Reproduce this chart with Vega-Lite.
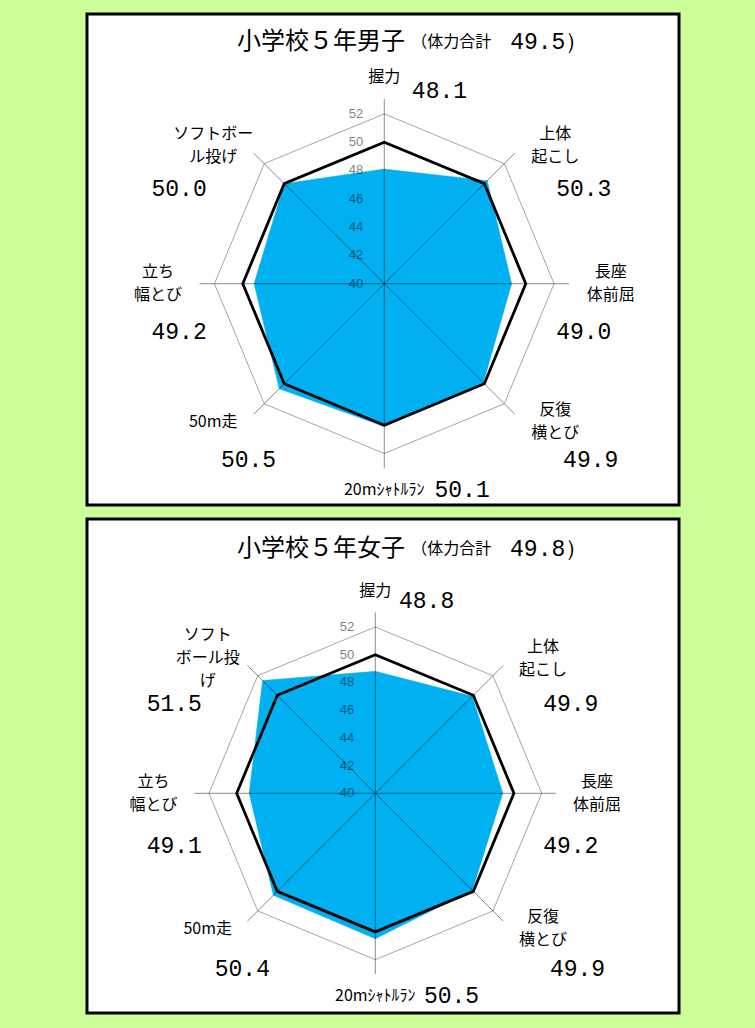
{
  "$schema": "https://vega.github.io/schema/vega-lite/v6.json",
  "background": "#CCFF99",
  "padding": {"left": 85, "top": 12, "right": 78, "bottom": 21},
  "config": {
    "view": {"stroke": "#000000", "strokeWidth": 3, "fill": "#ffffff"},
    "concat": {"spacing": 10}
  },
  "vconcat": [
    {
      "width": 592,
      "height": 491,
      "layer": [
        {
          "data": {"values": [
            {"idx": 0, "item": "握力", "label": "握力", "score": 48.1, "national": 50},
            {"idx": 1, "item": "上体起こし", "label": "上体\n起こし", "score": 50.3, "national": 50},
            {"idx": 2, "item": "長座体前屈", "label": "長座\n体前屈", "score": 49.0, "national": 50},
            {"idx": 3, "item": "反復横とび", "label": "反復\n横とび", "score": 49.9, "national": 50},
            {"idx": 4, "item": "20mシャトルラン", "label": "20mｼｬﾄﾙﾗﾝ", "score": 50.1, "national": 50},
            {"idx": 5, "item": "50m走", "label": "50m走", "score": 50.5, "national": 50},
            {"idx": 6, "item": "立ち幅とび", "label": "立ち\n幅とび", "score": 49.2, "national": 50},
            {"idx": 7, "item": "ソフトボール投げ", "label": "ソフトボー\nル投げ", "score": 50.0, "national": 50}
          ]},
          "transform": [
            {"calculate": "datum.idx * PI / 4", "as": "angle"},
            {"calculate": "abs(sin(2 * datum.angle))", "as": "diag"},
            {"calculate": "length(split(datum.label, '\\n'))", "as": "nl"},
            {"calculate": "(datum.score - 40) * sin(datum.angle)", "as": "sx"},
            {"calculate": "(datum.score - 40) * cos(datum.angle)", "as": "sy"},
            {"calculate": "(datum.national - 40) * sin(datum.angle)", "as": "nx"},
            {"calculate": "(datum.national - 40) * cos(datum.angle)", "as": "ny"},
            {"calculate": "12 * sin(datum.angle)", "as": "gx"},
            {"calculate": "12 * cos(datum.angle)", "as": "gy"},
            {"calculate": "13.05 * sin(datum.angle)", "as": "ex"},
            {"calculate": "13.05 * cos(datum.angle)", "as": "ey"},
            {"calculate": "sin(datum.angle) * (16 + 1.1 * datum.diag)", "as": "lx"},
            {"calculate": "cos(datum.angle) * (14.6 - 0.8 * datum.diag)", "as": "ly"},
            {"calculate": "datum.ly + (datum.nl - 1) * 0.81", "as": "lyTop"},
            {"calculate": "abs(sin(datum.angle)) < 0.5 ? (cos(datum.angle) > 0 ? 3.9 : 5.5) : (cos(datum.angle) < -0.5 ? datum.lx + 2.5 : (sin(datum.angle) > 0 ? 14.1 : -14.5))", "as": "vx"},
            {"calculate": "abs(sin(datum.angle)) < 0.5 ? datum.ly - (cos(datum.angle) > 0 ? 1.0 : 0) : datum.ly - (abs(cos(datum.angle)) < 0.1 ? 3.4 : (cos(datum.angle) > 0 ? 3.1 : 2.7))", "as": "vy"}
          ],
          "layer": [
            {
              "mark": {"type": "line", "interpolate": "linear-closed", "stroke": "#a6a6a6", "strokeWidth": 1},
              "encoding": {
                "x": {"field": "gx", "type": "quantitative", "scale": {"domain": [-21.01, 20.83], "nice": false, "zero": false}, "axis": null},
                "y": {"field": "gy", "type": "quantitative", "scale": {"domain": [-15.64, 19.06], "nice": false, "zero": false}, "axis": null},
                "order": {"field": "idx", "type": "quantitative"}
              }
            },
            {
              "mark": {"type": "line", "interpolate": "linear-closed", "fill": "#00B0F0", "stroke": "#00B0F0", "strokeWidth": 0.5},
              "encoding": {
                "x": {"field": "sx", "type": "quantitative", "scale": {"domain": [-21.01, 20.83], "nice": false, "zero": false}, "axis": null},
                "y": {"field": "sy", "type": "quantitative", "scale": {"domain": [-15.64, 19.06], "nice": false, "zero": false}, "axis": null},
                "order": {"field": "idx", "type": "quantitative"}
              }
            },
            {
              "mark": {"type": "rule", "color": "#000000", "opacity": 0.45, "strokeWidth": 1},
              "encoding": {
                "x": {"field": "ex", "type": "quantitative", "scale": {"domain": [-21.01, 20.83], "nice": false, "zero": false}, "axis": null},
                "y": {"field": "ey", "type": "quantitative", "scale": {"domain": [-15.64, 19.06], "nice": false, "zero": false}, "axis": null},
                "x2": {"datum": 0},
                "y2": {"datum": 0}
              }
            },
            {
              "mark": {"type": "line", "interpolate": "linear-closed", "stroke": "#000000", "strokeWidth": 2.8},
              "encoding": {
                "x": {"field": "nx", "type": "quantitative", "scale": {"domain": [-21.01, 20.83], "nice": false, "zero": false}, "axis": null},
                "y": {"field": "ny", "type": "quantitative", "scale": {"domain": [-15.64, 19.06], "nice": false, "zero": false}, "axis": null},
                "order": {"field": "idx", "type": "quantitative"}
              }
            },
            {
              "mark": {"type": "text", "align": "center", "baseline": "middle", "lineBreak": "\n", "lineHeight": 23, "font": "Noto Sans CJK JP", "fontSize": 16, "color": "#000000"},
              "encoding": {
                "x": {"field": "lx", "type": "quantitative", "scale": {"domain": [-21.01, 20.83], "nice": false, "zero": false}, "axis": null},
                "y": {"field": "lyTop", "type": "quantitative", "scale": {"domain": [-15.64, 19.06], "nice": false, "zero": false}, "axis": null},
                "text": {"field": "label", "type": "nominal"}
              }
            },
            {
              "mark": {"type": "text", "align": "center", "baseline": "middle", "font": "Liberation Mono", "fontSize": 23, "color": "#000000"},
              "encoding": {
                "x": {"field": "vx", "type": "quantitative", "scale": {"domain": [-21.01, 20.83], "nice": false, "zero": false}, "axis": null},
                "y": {"field": "vy", "type": "quantitative", "scale": {"domain": [-15.64, 19.06], "nice": false, "zero": false}, "axis": null},
                "text": {"field": "score", "type": "quantitative", "format": ".1f"}
              }
            }
          ]
        },
        {
          "data": {"values": [{"tick": 40}, {"tick": 42}, {"tick": 44}, {"tick": 46}, {"tick": 48}, {"tick": 50}, {"tick": 52}]},
          "transform": [{"calculate": "datum.tick - 40", "as": "r"}],
          "mark": {"type": "text", "align": "right", "baseline": "middle", "dx": -21, "font": "Liberation Sans", "fontSize": 13, "color": "#000000", "opacity": 0.5},
          "encoding": {
            "x": {"datum": 0, "type": "quantitative", "scale": {"domain": [-21.01, 20.83], "nice": false, "zero": false}, "axis": null},
            "y": {"field": "r", "type": "quantitative", "scale": {"domain": [-15.64, 19.06], "nice": false, "zero": false}, "axis": null},
            "text": {"field": "tick", "type": "quantitative"}
          }
        },
        {
          "data": {"values": [{"grade": "小学校５年男子", "total": 49.5}]},
          "transform": [{"calculate": "format(datum.total, '.1f') + '）'", "as": "totalLabel"}],
          "layer": [
            {
              "mark": {"type": "text", "align": "right", "baseline": "middle", "font": "Noto Sans CJK JP", "fontSize": 24, "color": "#000000"},
              "encoding": {
                "x": {"datum": 1.46, "type": "quantitative", "scale": {"domain": [-21.01, 20.83], "nice": false, "zero": false}, "axis": null},
                "y": {"datum": 17.05, "type": "quantitative", "scale": {"domain": [-15.64, 19.06], "nice": false, "zero": false}, "axis": null},
                "text": {"field": "grade", "type": "nominal"}
              }
            },
            {
              "mark": {"type": "text", "align": "left", "baseline": "middle", "font": "Noto Sans CJK JP", "fontSize": 16, "color": "#000000"},
              "encoding": {
                "x": {"datum": 1.9, "type": "quantitative", "scale": {"domain": [-21.01, 20.83], "nice": false, "zero": false}, "axis": null},
                "y": {"datum": 17.05, "type": "quantitative", "scale": {"domain": [-15.64, 19.06], "nice": false, "zero": false}, "axis": null},
                "text": {"value": "（体力合計"}
              }
            },
            {
              "mark": {"type": "text", "align": "left", "baseline": "middle", "font": "Liberation Mono", "fontSize": 23, "color": "#000000"},
              "encoding": {
                "x": {"datum": 8.9, "type": "quantitative", "scale": {"domain": [-21.01, 20.83], "nice": false, "zero": false}, "axis": null},
                "y": {"datum": 17.05, "type": "quantitative", "scale": {"domain": [-15.64, 19.06], "nice": false, "zero": false}, "axis": null},
                "text": {"field": "totalLabel", "type": "nominal"}
              }
            }
          ]
        }
      ]
    },
    {
      "width": 592,
      "height": 494,
      "layer": [
        {
          "data": {"values": [
            {"idx": 0, "item": "握力", "label": "握力", "score": 48.8, "national": 50},
            {"idx": 1, "item": "上体起こし", "label": "上体\n起こし", "score": 49.9, "national": 50},
            {"idx": 2, "item": "長座体前屈", "label": "長座\n体前屈", "score": 49.2, "national": 50},
            {"idx": 3, "item": "反復横とび", "label": "反復\n横とび", "score": 49.9, "national": 50},
            {"idx": 4, "item": "20mシャトルラン", "label": "20mｼｬﾄﾙﾗﾝ", "score": 50.5, "national": 50},
            {"idx": 5, "item": "50m走", "label": "50m走", "score": 50.4, "national": 50},
            {"idx": 6, "item": "立ち幅とび", "label": "立ち\n幅とび", "score": 49.1, "national": 50},
            {"idx": 7, "item": "ソフトボール投げ", "label": "ソフト\nボール投\nげ", "score": 51.5, "national": 50}
          ]},
          "transform": [
            {"calculate": "datum.idx * PI / 4", "as": "angle"},
            {"calculate": "abs(sin(2 * datum.angle))", "as": "diag"},
            {"calculate": "length(split(datum.label, '\\n'))", "as": "nl"},
            {"calculate": "(datum.score - 40) * sin(datum.angle)", "as": "sx"},
            {"calculate": "(datum.score - 40) * cos(datum.angle)", "as": "sy"},
            {"calculate": "(datum.national - 40) * sin(datum.angle)", "as": "nx"},
            {"calculate": "(datum.national - 40) * cos(datum.angle)", "as": "ny"},
            {"calculate": "12 * sin(datum.angle)", "as": "gx"},
            {"calculate": "12 * cos(datum.angle)", "as": "gy"},
            {"calculate": "13.05 * sin(datum.angle)", "as": "ex"},
            {"calculate": "13.05 * cos(datum.angle)", "as": "ey"},
            {"calculate": "sin(datum.angle) * (16 + 1.1 * datum.diag)", "as": "lx"},
            {"calculate": "cos(datum.angle) * (14.6 - 0.8 * datum.diag)", "as": "ly"},
            {"calculate": "datum.ly + (datum.nl - 1) * 0.83", "as": "lyTop"},
            {"calculate": "abs(sin(datum.angle)) < 0.5 ? (cos(datum.angle) > 0 ? 3.7 : 5.5) : (cos(datum.angle) < -0.5 ? datum.lx + 2.5 : (sin(datum.angle) > 0 ? 14.1 : -14.5))", "as": "vx"},
            {"calculate": "abs(sin(datum.angle)) < 0.5 ? datum.ly - (cos(datum.angle) > 0 ? 0.7 : 0) : datum.ly - (abs(cos(datum.angle)) < 0.1 ? 3.8 : (cos(datum.angle) > 0 ? 3.3 : 2.9))", "as": "vy"}
          ],
          "layer": [
            {
              "mark": {"type": "line", "interpolate": "linear-closed", "stroke": "#a6a6a6", "strokeWidth": 1},
              "encoding": {
                "x": {"field": "gx", "type": "quantitative", "scale": {"domain": [-20.8, 21.91], "nice": false, "zero": false}, "axis": null},
                "y": {"field": "gy", "type": "quantitative", "scale": {"domain": [-15.85, 19.79], "nice": false, "zero": false}, "axis": null},
                "order": {"field": "idx", "type": "quantitative"}
              }
            },
            {
              "mark": {"type": "line", "interpolate": "linear-closed", "fill": "#00B0F0", "stroke": "#00B0F0", "strokeWidth": 0.5},
              "encoding": {
                "x": {"field": "sx", "type": "quantitative", "scale": {"domain": [-20.8, 21.91], "nice": false, "zero": false}, "axis": null},
                "y": {"field": "sy", "type": "quantitative", "scale": {"domain": [-15.85, 19.79], "nice": false, "zero": false}, "axis": null},
                "order": {"field": "idx", "type": "quantitative"}
              }
            },
            {
              "mark": {"type": "rule", "color": "#000000", "opacity": 0.45, "strokeWidth": 1},
              "encoding": {
                "x": {"field": "ex", "type": "quantitative", "scale": {"domain": [-20.8, 21.91], "nice": false, "zero": false}, "axis": null},
                "y": {"field": "ey", "type": "quantitative", "scale": {"domain": [-15.85, 19.79], "nice": false, "zero": false}, "axis": null},
                "x2": {"datum": 0},
                "y2": {"datum": 0}
              }
            },
            {
              "mark": {"type": "line", "interpolate": "linear-closed", "stroke": "#000000", "strokeWidth": 2.8},
              "encoding": {
                "x": {"field": "nx", "type": "quantitative", "scale": {"domain": [-20.8, 21.91], "nice": false, "zero": false}, "axis": null},
                "y": {"field": "ny", "type": "quantitative", "scale": {"domain": [-15.85, 19.79], "nice": false, "zero": false}, "axis": null},
                "order": {"field": "idx", "type": "quantitative"}
              }
            },
            {
              "mark": {"type": "text", "align": "center", "baseline": "middle", "lineBreak": "\n", "lineHeight": 23, "font": "Noto Sans CJK JP", "fontSize": 16, "color": "#000000"},
              "encoding": {
                "x": {"field": "lx", "type": "quantitative", "scale": {"domain": [-20.8, 21.91], "nice": false, "zero": false}, "axis": null},
                "y": {"field": "lyTop", "type": "quantitative", "scale": {"domain": [-15.85, 19.79], "nice": false, "zero": false}, "axis": null},
                "text": {"field": "label", "type": "nominal"}
              }
            },
            {
              "mark": {"type": "text", "align": "center", "baseline": "middle", "font": "Liberation Mono", "fontSize": 23, "color": "#000000"},
              "encoding": {
                "x": {"field": "vx", "type": "quantitative", "scale": {"domain": [-20.8, 21.91], "nice": false, "zero": false}, "axis": null},
                "y": {"field": "vy", "type": "quantitative", "scale": {"domain": [-15.85, 19.79], "nice": false, "zero": false}, "axis": null},
                "text": {"field": "score", "type": "quantitative", "format": ".1f"}
              }
            }
          ]
        },
        {
          "data": {"values": [{"tick": 40}, {"tick": 42}, {"tick": 44}, {"tick": 46}, {"tick": 48}, {"tick": 50}, {"tick": 52}]},
          "transform": [{"calculate": "datum.tick - 40", "as": "r"}],
          "mark": {"type": "text", "align": "right", "baseline": "middle", "dx": -21, "font": "Liberation Sans", "fontSize": 13, "color": "#000000", "opacity": 0.5},
          "encoding": {
            "x": {"datum": 0, "type": "quantitative", "scale": {"domain": [-20.8, 21.91], "nice": false, "zero": false}, "axis": null},
            "y": {"field": "r", "type": "quantitative", "scale": {"domain": [-15.85, 19.79], "nice": false, "zero": false}, "axis": null},
            "text": {"field": "tick", "type": "quantitative"}
          }
        },
        {
          "data": {"values": [{"grade": "小学校５年女子", "total": 49.8}]},
          "transform": [{"calculate": "format(datum.total, '.1f') + '）'", "as": "totalLabel"}],
          "layer": [
            {
              "mark": {"type": "text", "align": "right", "baseline": "middle", "font": "Noto Sans CJK JP", "fontSize": 24, "color": "#000000"},
              "encoding": {
                "x": {"datum": 2.14, "type": "quantitative", "scale": {"domain": [-20.8, 21.91], "nice": false, "zero": false}, "axis": null},
                "y": {"datum": 17.65, "type": "quantitative", "scale": {"domain": [-15.85, 19.79], "nice": false, "zero": false}, "axis": null},
                "text": {"field": "grade", "type": "nominal"}
              }
            },
            {
              "mark": {"type": "text", "align": "left", "baseline": "middle", "font": "Noto Sans CJK JP", "fontSize": 16, "color": "#000000"},
              "encoding": {
                "x": {"datum": 2.59, "type": "quantitative", "scale": {"domain": [-20.8, 21.91], "nice": false, "zero": false}, "axis": null},
                "y": {"datum": 17.65, "type": "quantitative", "scale": {"domain": [-15.85, 19.79], "nice": false, "zero": false}, "axis": null},
                "text": {"value": "（体力合計"}
              }
            },
            {
              "mark": {"type": "text", "align": "left", "baseline": "middle", "font": "Liberation Mono", "fontSize": 23, "color": "#000000"},
              "encoding": {
                "x": {"datum": 9.72, "type": "quantitative", "scale": {"domain": [-20.8, 21.91], "nice": false, "zero": false}, "axis": null},
                "y": {"datum": 17.65, "type": "quantitative", "scale": {"domain": [-15.85, 19.79], "nice": false, "zero": false}, "axis": null},
                "text": {"field": "totalLabel", "type": "nominal"}
              }
            }
          ]
        }
      ]
    }
  ]
}
